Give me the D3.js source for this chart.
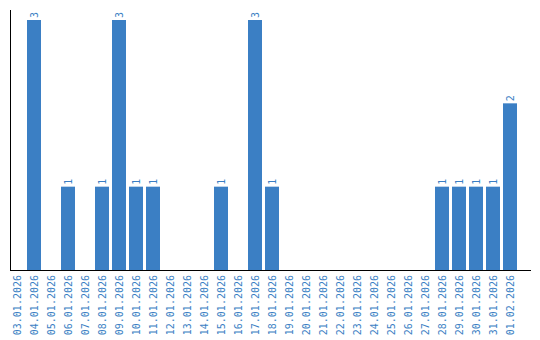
<!DOCTYPE html>
<html>
<head>
<meta charset="utf-8">
<script src="https://cdn.jsdelivr.net/npm/d3@7"></script>
<style>
  body { margin: 0; background: #fff; }
  text { font-family: "DejaVu Sans Mono", monospace; }
</style>
</head>
<body>
<script>
const dates = ["03.01.2026","04.01.2026","05.01.2026","06.01.2026","07.01.2026","08.01.2026",
  "09.01.2026","10.01.2026","11.01.2026","12.01.2026","13.01.2026","14.01.2026","15.01.2026",
  "16.01.2026","17.01.2026","18.01.2026","19.01.2026","20.01.2026","21.01.2026","22.01.2026",
  "23.01.2026","24.01.2026","25.01.2026","26.01.2026","27.01.2026","28.01.2026","29.01.2026",
  "30.01.2026","31.01.2026","01.02.2026"];
const counts = [0,3,0,1,0,1,3,1,1,0,0,0,1,0,3,1,0,0,0,0,0,0,0,0,0,1,1,1,1,2];

const width = 540, height = 340;
const blue = "#3b7fc4";

const svg = d3.select("body").append("svg")
  .attr("width", width)
  .attr("height", height);

const x = d3.scaleBand()
  .domain(dates)
  .range([8.5, 518.5])
  .paddingInner(3 / 17)
  .paddingOuter(3 / 34);

const y = d3.scaleLinear()
  .domain([0, 3])
  .range([270, 20]);

const data = dates.map((d, i) => ({date: d, value: counts[i]}));

svg.append("g")
  .selectAll("rect")
  .data(data.filter(d => d.value > 0))
  .join("rect")
  .attr("x", d => x(d.date))
  .attr("y", d => y(d.value))
  .attr("width", x.bandwidth())
  .attr("height", d => y(0) - y(d.value))
  .attr("fill", blue);

// value labels
svg.append("g")
  .selectAll("text")
  .data(data.filter(d => d.value > 0))
  .join("text")
  .attr("transform", d => `translate(${x(d.date) + x.bandwidth() / 2 + 4},${y(d.value) - 2}) rotate(-90)`)
  .attr("font-size", 10)
  .attr("fill", blue)
  .text(d => d.value);

// axes lines
svg.append("line")
  .attr("x1", 10.5).attr("x2", 10.5)
  .attr("y1", 10).attr("y2", 271)
  .attr("stroke", "#000").attr("stroke-width", 1);
svg.append("line")
  .attr("x1", 10).attr("x2", 531)
  .attr("y1", 270.5).attr("y2", 270.5)
  .attr("stroke", "#000").attr("stroke-width", 1);

// x tick labels
svg.append("g")
  .selectAll("text")
  .data(dates)
  .join("text")
  .attr("transform", d => `translate(${x(d) + x.bandwidth() / 2 + 4},275) rotate(-90)`)
  .attr("text-anchor", "end")
  .attr("font-size", 10)
  .attr("fill", blue)
  .text(d => d);
</script>
</body>
</html>
